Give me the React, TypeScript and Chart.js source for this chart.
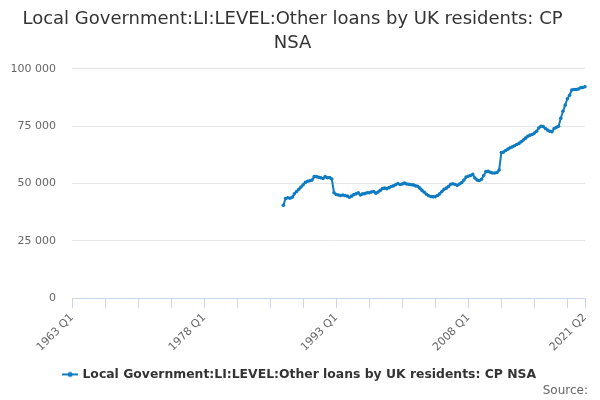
import React, { useEffect, useRef } from "react";
import { Chart, registerables } from "chart.js";

Chart.register(...registerables);

const TITLE_LINES = ["Local Government:LI:LEVEL:Other loans by UK residents: CP", "NSA"];
const SERIES_NAME = "Local Government:LI:LEVEL:Other loans by UK residents: CP NSA";
const SOURCE_TEXT = "Source:";

const START_YEAR = 1963;
const END_YEAR = 2021;
const END_QUARTER = 2;
const FIRST_DATA_INDEX = 96; // 1987 Q1

// values from 1987 Q1 to 2021 Q2 (GBP millions)
const values: number[] = [
  40500, 43500, 43800, 43600, 44000, 45500, 46500, 47500, 48500, 49500,
  50500, 51000, 51200, 51500, 53000, 53000, 52700, 52500, 52200, 53000,
  52500, 52600, 52000, 46000,
  45200, 45000, 44800, 45000, 44800, 44500, 44000, 44500, 45200, 45500,
  46000, 45000, 45500, 45600, 46000, 46000, 46300, 46500, 45800, 46300,
  47000, 47800, 48000, 47800, 48200, 48700, 49000, 49500, 50000, 49600,
  49800, 50200, 49800, 49700, 49500, 49400, 49000, 48800, 48000, 47000,
  46200, 45300, 44700, 44300, 44200, 44300, 44800, 45500, 46500, 47500,
  48000, 48700, 49700, 49900, 49600, 49200, 49800, 50400, 51500, 52800,
  53200, 53500, 54000, 52400, 51500, 51300, 51900, 53500, 55200, 55300,
  54900, 54600, 54600, 54800, 55900, 63500, 63700, 64400, 65000, 65600,
  66000, 66500, 67000, 67500, 68200, 69000, 69800, 70600, 71100, 71400,
  72000, 72800, 74200, 75000, 74900, 74000, 73300, 72800, 72600, 74000,
  74500, 75000, 78500, 81500, 84200, 87000, 88500, 90800, 91000, 91000,
  91200, 91800, 91900, 92200,
];

const Y_MIN = 0;
const Y_MAX = 100000;
const Y_STEP = 25000;

const LINE_COLOR = "#0f7bc2";

function buildLabels(): string[] {
  const out: string[] = [];
  for (let y = START_YEAR; y <= END_YEAR; y++) {
    for (let q = 1; q <= 4; q++) {
      if (y === END_YEAR && q > END_QUARTER) break;
      out.push(`${y} Q${q}`);
    }
  }
  return out;
}

function fmt(v: number): string {
  return Math.round(v).toString().replace(/\B(?=(\d{3})+(?!\d))/g, " ");
}

const shiftBoxes = {
  id: "shiftBoxes",
  afterLayout(chart: any) {
    const lg = chart.legend;
    if (lg) {
      lg.left += 7.5;
      lg.right += 7.5;
    }
    const st = chart.$subtitle || (chart.boxes || []).find((b: any) => b.options && b.options.text === SOURCE_TEXT);
    if (st) {
      st.left += 3;
      st.right += 3;
    }
  },
};

export default function App() {
  const ref = useRef<HTMLCanvasElement | null>(null);

  useEffect(() => {
    document.body.style.margin = "0";
    const canvas = ref.current;
    if (!canvas) return;
    const labels = buildLabels();
    const lastIdx = labels.length - 1;
    const data: (number | null)[] = labels.map((_, i) =>
      i >= FIRST_DATA_INDEX && i - FIRST_DATA_INDEX < values.length ? values[i - FIRST_DATA_INDEX] : null
    );

    const sym = document.createElement("canvas");
    sym.width = 16;
    sym.height = 8;
    const sctx = sym.getContext("2d");
    if (sctx) {
      sctx.strokeStyle = LINE_COLOR;
      sctx.lineWidth = 2;
      sctx.beginPath();
      sctx.moveTo(0, 4);
      sctx.lineTo(16, 4);
      sctx.stroke();
      sctx.fillStyle = LINE_COLOR;
      sctx.beginPath();
      sctx.arc(8, 4, 2.5, 0, Math.PI * 2);
      sctx.fill();
    }

    const font = "'DejaVu Sans', sans-serif";

    const chart = new Chart(canvas, {
      type: "line",
      data: {
        labels,
        datasets: [
          {
            label: SERIES_NAME,
            data,
            borderColor: LINE_COLOR,
            backgroundColor: LINE_COLOR,
            borderWidth: 2,
            pointRadius: 1.8,
            pointHoverRadius: 2,
            pointBorderWidth: 0,
            pointStyle: "circle",
            spanGaps: false,
            tension: 0,
          },
        ],
      },
      plugins: [shiftBoxes],
      options: {
        responsive: false,
        animation: false,
        events: [],
        layout: { padding: { left: 0, right: 15, top: 0, bottom: 0 } },
        plugins: {
          title: {
            display: true,
            text: TITLE_LINES,
            color: "#333333",
            font: { family: font, size: 18, weight: "normal", lineHeight: 1.33 },
            padding: { top: 7, bottom: 14 },
          },
          subtitle: {
            display: true,
            text: SOURCE_TEXT,
            position: "bottom",
            align: "end",
            color: "#666666",
            font: { family: font, size: 12, weight: "normal" },
            padding: { top: -7, bottom: 2 },
          },
          legend: {
            display: true,
            position: "bottom",
            labels: {
              color: "#333333",
              font: { family: font, size: 12.4, weight: "bold" },
              usePointStyle: true,
              generateLabels: (c: any) => [
                {
                  text: SERIES_NAME,
                  pointStyle: sym,
                  fillStyle: LINE_COLOR,
                  strokeStyle: LINE_COLOR,
                  lineWidth: 0,
                  hidden: false,
                  datasetIndex: 0,
                  fontColor: "#333333",
                },
              ],
              padding: 4,
            },
          },
          tooltip: { enabled: false },
        },
        scales: {
          x: {
            type: "category",
            offset: false,
            afterFit: (s: any) => {
              s.height = 66;
            },
            grid: {
              display: true,
              drawOnChartArea: false,
              drawTicks: true,
              tickLength: 10,
              color: "#ccd6eb",
              lineWidth: 1,
            },
            border: { display: true, color: "#ccd6eb", width: 1 },
            ticks: {
              autoSkip: false,
              maxRotation: 45,
              minRotation: 45,
              color: "#666666",
              font: { family: font, size: 11 },
              padding: 3,
              callback: (_v: any, i: number) => {
                if (i % 60 === 0 || i === lastIdx) return labels[i];
                if (i % 15 === 0) return "";
                return null;
              },
            },
          },
          y: {
            type: "linear",
            min: Y_MIN,
            max: Y_MAX,
            afterFit: (s: any) => {
              s.width = 72;
            },
            grid: {
              color: "#e6e6e6",
              lineWidth: 1,
              drawTicks: false,
            },
            border: { display: false },
            ticks: {
              stepSize: Y_STEP,
              color: "#666666",
              font: { family: font, size: 11 },
              padding: 16,
              callback: (v: any) => fmt(Number(v)),
            },
          },
        },
      },
    });
    return () => chart.destroy();
  }, []);

  return (
    <div style={{ width: 600, height: 400, background: "#ffffff" }}>
      <canvas ref={ref} width={600} height={400} style={{ width: 600, height: 400, display: "block" }} />
    </div>
  );
}
